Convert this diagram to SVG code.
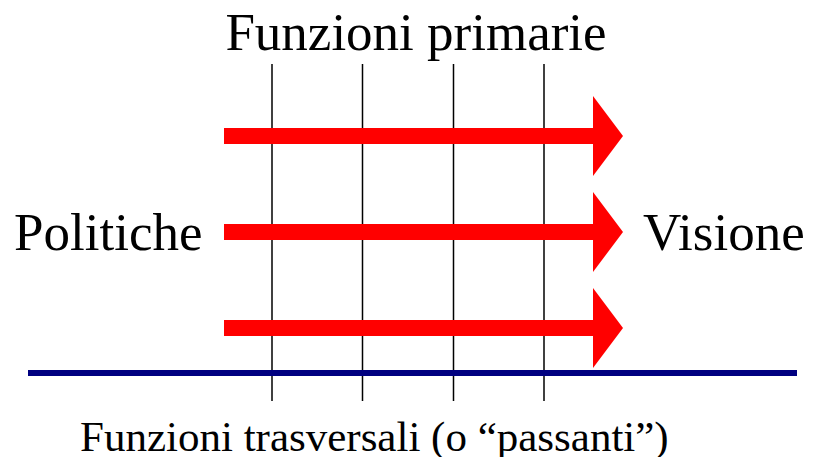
<svg xmlns="http://www.w3.org/2000/svg" width="813" height="457" viewBox="0 0 813 457">
<style>
.t{font-family:"Liberation Serif","Times New Roman",serif;fill:#000}
.v{stroke:#000;stroke-width:1.5}
.a{fill:#ff0000}
</style>
<defs>
<path id="arr" class="a" d="M224,-8 H593 V-40 L623,0 L593,40 V8 H224 Z"/>
</defs>
<rect width="813" height="457" fill="#fff"/>
<g id="title"><text class="t" x="416" y="50" font-size="53" text-anchor="middle">Funzioni primarie</text></g>
<g id="politiche"><text class="t" x="14" y="250" font-size="53">Politiche</text></g>
<g id="visione"><text class="t" x="643" y="250" font-size="53">Visione</text></g>
<g id="bottom"><text class="t" x="80" y="451" font-size="43">Funzioni trasversali (o “passanti”)</text></g>
<g id="verticals">
<line class="v" x1="272" y1="64" x2="272" y2="401"/>
<line class="v" x1="362.5" y1="64" x2="362.5" y2="401"/>
<line class="v" x1="453.5" y1="64" x2="453.5" y2="401"/>
<line class="v" x1="544" y1="64" x2="544" y2="401"/>
</g>
<g id="connectors">
<use href="#arr" transform="translate(0,136)"/>
<use href="#arr" transform="translate(0,232)"/>
<use href="#arr" transform="translate(0,328)"/>
</g>
<g id="baseline"><line x1="28" y1="373" x2="797" y2="373" stroke="#000080" stroke-width="6"/></g>
</svg>
